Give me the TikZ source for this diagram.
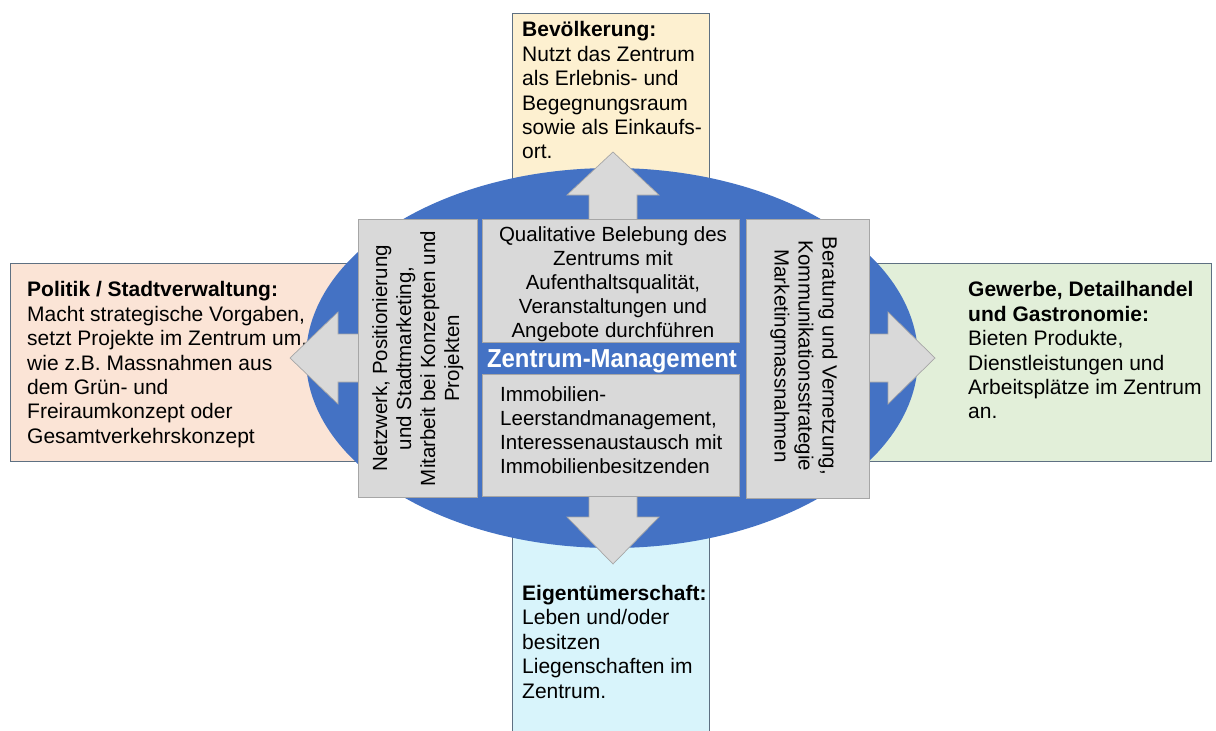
\documentclass[tikz,border=0pt]{standalone}
\usepackage{fontspec}
\setmainfont{Liberation Sans}
\usetikzlibrary{shapes.geometric}
\definecolor{ellblue}{HTML}{4472C4}
\definecolor{boxgrey}{HTML}{D9D9D9}
\definecolor{boxgreyline}{HTML}{A6A6A6}
\definecolor{outline}{HTML}{5E7082}
\definecolor{cyell}{HTML}{FDF0D0}
\definecolor{cpeach}{HTML}{FBE4D6}
\definecolor{cgreen}{HTML}{E2EFD9}
\definecolor{ccyan}{HTML}{D8F4FB}
\tikzset{
  outerbox/.style={draw=outline, line width=0.9pt, anchor=north west, inner sep=0pt},
  greybox/.style={draw=boxgreyline, fill=boxgrey, line width=0.8pt, anchor=north west, inner sep=0pt},
  bodytext/.style={inner sep=0pt, font=\fontsize{21}{24.4}\selectfont, text=black},
  midtext/.style={inner sep=0pt, font=\fontsize{20.5}{24}\selectfont, text=black},
}
\begin{document}
\begin{tikzpicture}[x=1pt,y=-1pt]
\useasboundingbox (0,0) rectangle (1216,731);
\clip (0,0) rectangle (1216,731);
\fill[white] (0,0) rectangle (1216,731);
% outer boxes
\node[outerbox, fill=cyell, minimum width=197pt, minimum height=247pt] (topbox) at (512,13) {};
\node[outerbox, fill=cpeach, minimum width=380pt, minimum height=198pt] (leftbox) at (10,263) {};
\node[outerbox, fill=cgreen, minimum width=361pt, minimum height=198pt] (rightbox) at (850,263) {};
\node[outerbox, fill=ccyan, minimum width=197pt, minimum height=270pt] (botbox) at (512,470) {};
% texts in outer boxes
\node[bodytext, anchor=north west, align=left] (toptext) at (522,21.5)
  {\textbf{Bevölkerung:}\\Nutzt das Zentrum\\als Erlebnis- und\\Begegnungsraum\\sowie als Einkaufs-\\ort.};
\node[bodytext, anchor=north west, align=left] (lefttext) at (27,281.5)
  {\textbf{Politik / Stadtverwaltung:}\\Macht strategische Vorgaben,\\setzt Projekte im Zentrum um,\\wie z.B. Massnahmen aus\\dem Grün- und\\Freiraumkonzept oder\\Gesamtverkehrskonzept};
\node[bodytext, anchor=north west, align=left] (righttext) at (968,281.5)
  {\textbf{Gewerbe, Detailhandel}\\\textbf{und Gastronomie:}\\Bieten Produkte,\\Dienstleistungen und\\Arbeitsplätze im Zentrum\\an.};
\node[bodytext, anchor=north west, align=left] (bottext) at (522,585)
  {\textbf{Eigentümerschaft:}\\Leben und/oder\\besitzen\\Liegenschaften im\\Zentrum.};
% ellipse
\node[ellipse, fill=ellblue, minimum width=612pt, minimum height=380pt, inner sep=0pt] (ell) at (612,358) {};
% quad arrow
\path[fill=boxgrey, draw=boxgreyline, line width=0.7pt, line join=miter]
  (613,152) -- (659,195) -- (637,195) -- (637,334) -- (888,334) -- (888,312)
  -- (935,358) -- (888,404) -- (888,382) -- (637,382) -- (637,517) -- (659,517)
  -- (613,564) -- (567,517) -- (589,517) -- (589,382) -- (338,382) -- (338,404)
  -- (290,358) -- (338,312) -- (338,334) -- (589,334) -- (589,195) -- (567,195) -- cycle;
% blue core behind the grey boxes
\node[anchor=north west, fill=ellblue, inner sep=0pt, minimum width=511pt, minimum height=278pt] (core) at (358,219) {};
% grey boxes
\node[greybox, minimum width=119pt, minimum height=278pt] (netbox) at (358,219) {};
\node[greybox, minimum width=257pt, minimum height=123pt] (qualbox) at (482,219) {};
\node[greybox, minimum width=257pt, minimum height=122pt] (immobox) at (482,374) {};
\node[greybox, minimum width=123pt, minimum height=279pt] (berbox) at (746,219) {};
% texts in grey boxes
\node[midtext, align=center, rotate=90] (nettext) at (netbox.center)
  {Netzwerk, Positionierung\\und Stadtmarketing,\\Mitarbeit bei Konzepten und\\Projekten};
\node[midtext, align=center, rotate=-90] (bertext) at (804,356)
  {Beratung und Vernetzung,\\Kommunikationsstrategie\\Marketingmassnahmen};
\node[midtext, align=center, anchor=north] (qualtext) at (613,226)
  {Qualitative Belebung des\\Zentrums mit\\Aufenthaltsqualität,\\Veranstaltungen und\\Angebote durchführen};
\node[midtext, align=left, anchor=north west] (immotext) at (500,386)
  {Immobilien-\\Leerstandmanagement,\\Interessenaustausch mit\\Immobilienbesitzenden};
\node[inner sep=0pt, anchor=base, text=white, font=\fontsize{26}{30}\selectfont\bfseries] (zm) at (612,367.5) {\scalebox{0.92}[1]{Zentrum-Management}};
\end{tikzpicture}
\end{document}
